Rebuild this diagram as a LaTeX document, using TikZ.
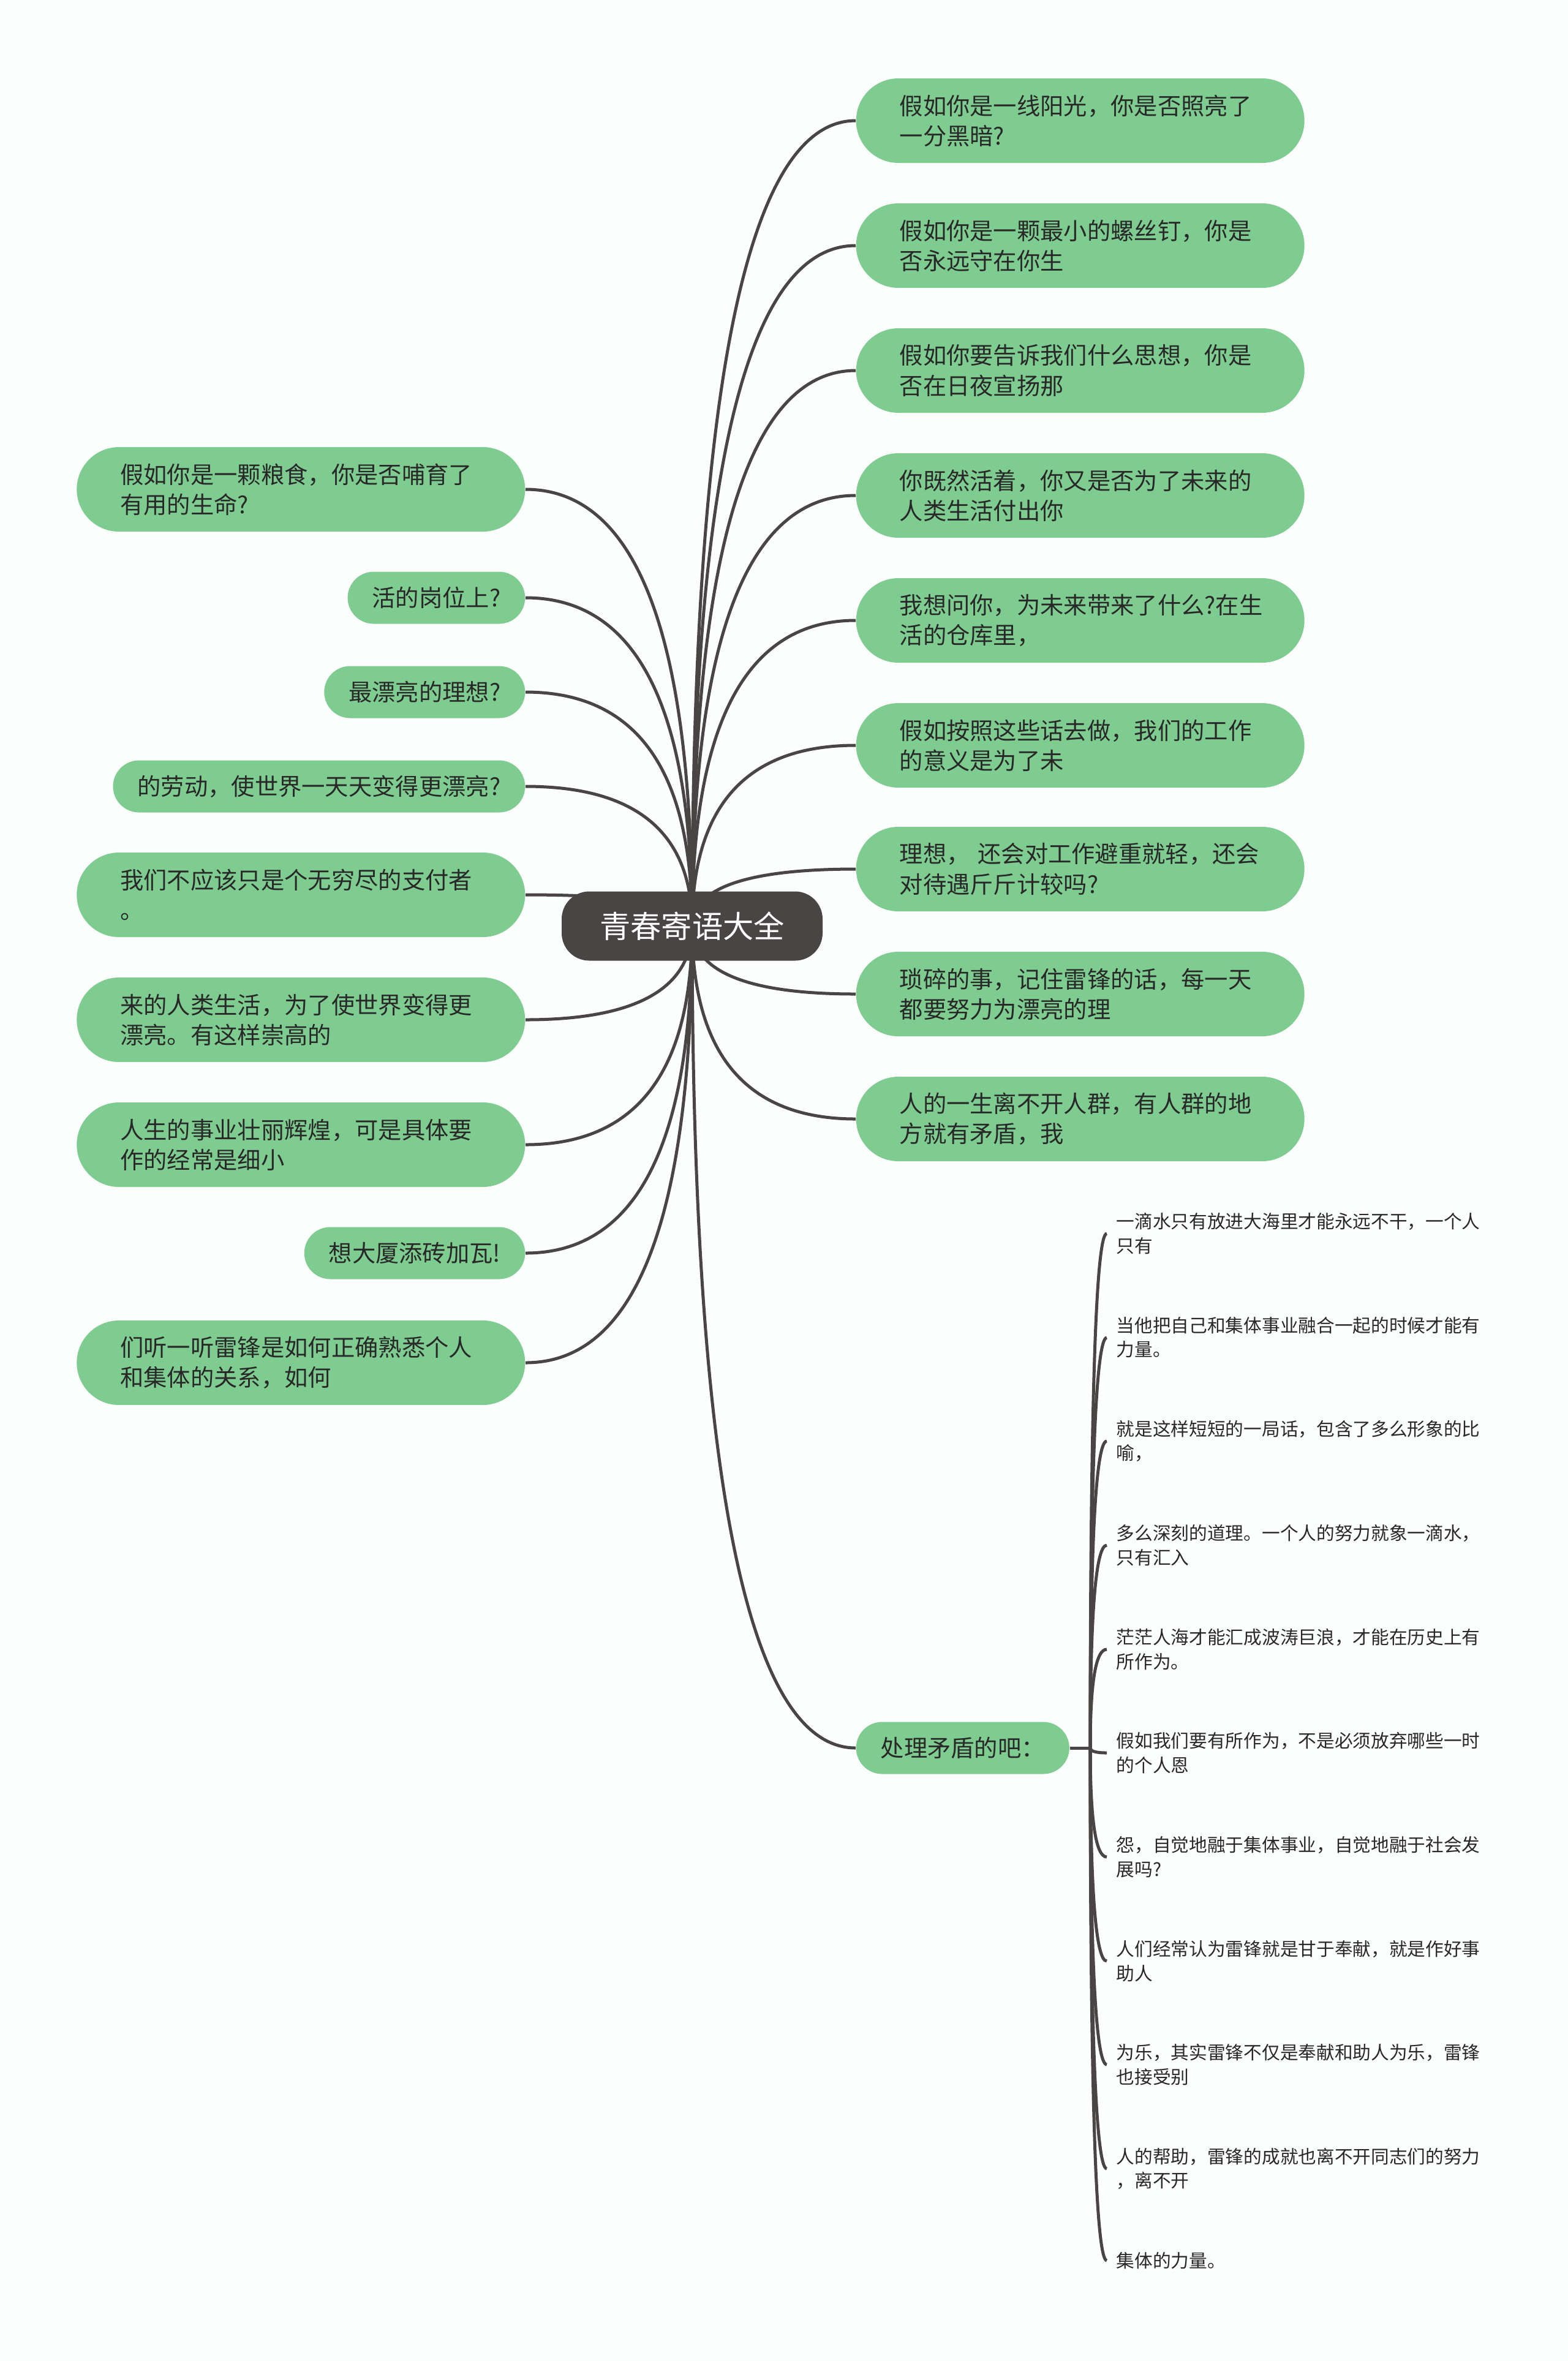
\documentclass[tikz,border=0pt]{standalone}
\usepackage{fontspec}
\setmainfont{Noto Sans CJK SC}
\usetikzlibrary{calc, backgrounds}
\definecolor{vert}{RGB}{127,204,145}
\definecolor{gris}{RGB}{74,69,69}
\definecolor{encre}{RGB}{40,40,40}
\definecolor{fond}{RGB}{251,254,253}

\begin{document}
\begin{tikzpicture}[x=1cm, y=1cm,
    lien/.style={draw=gris, line width=0.05cm},
    racine/.style={fill=gris, text=white, rounded corners=0.45cm, minimum width=4.26cm, minimum height=1.13cm, font=\fontsize{14.3}{17}\selectfont},
    boite/.style={fill=vert, text=encre, rounded corners=0.69cm, text width=5.9cm, align=left, inner xsep=0.71cm, minimum height=1.38cm, font=\fontsize{10.9}{14}\selectfont},
    petite/.style={fill=vert, text=encre, rounded corners=0.425cm, inner xsep=0.4cm, minimum height=0.85cm, font=\fontsize{10.9}{14}\selectfont},
    feuille/.style={text=encre, text width=6.2cm, align=left, inner xsep=0.15cm, inner ysep=0cm, font=\fontsize{8.45}{11.2}\selectfont}]
    \useasboundingbox (0,0) rectangle (25.6,-38.55);

    % Noeud central
    \node[racine] (c) at (11.30,-15.12) {青春寄语大全};

    % Branches a droite
    \node[boite, anchor=west] (r1) at (13.97,-1.97) {假如你是一线阳光，你是否照亮了\\一分黑暗?};
    \node[boite, anchor=west] (r2) at (13.97,-4.01) {假如你是一颗最小的螺丝钉，你是\\否永远守在你生};
    \node[boite, anchor=west] (r3) at (13.97,-6.05) {假如你要告诉我们什么思想，你是\\否在日夜宣扬那};
    \node[boite, anchor=west] (r4) at (13.97,-8.09) {你既然活着，你又是否为了未来的\\人类生活付出你};
    \node[boite, anchor=west] (r5) at (13.97,-10.13) {我想问你，为未来带来了什么?在生\\活的仓库里，};
    \node[boite, anchor=west] (r6) at (13.97,-12.17) {假如按照这些话去做，我们的工作\\的意义是为了未};
    \node[boite, anchor=west] (r7) at (13.97,-14.19) {理想， 还会对工作避重就轻，还会\\对待遇斤斤计较吗?};
    \node[boite, anchor=west] (r8) at (13.97,-16.23) {琐碎的事，记住雷锋的话，每一天\\都要努力为漂亮的理};
    \node[boite, anchor=west] (r9) at (13.97,-18.27) {人的一生离不开人群，有人群的地\\方就有矛盾，我};
    \node[petite, anchor=west] (fix) at (13.97,-28.54) {处理矛盾的吧：};

    % Branches a gauche
    \node[boite, anchor=east] (l1) at (8.58,-7.99) {假如你是一颗粮食，你是否哺育了\\有用的生命?};
    \node[petite, anchor=east] (l2) at (8.58,-9.76) {活的岗位上?};
    \node[petite, anchor=east] (l3) at (8.58,-11.30) {最漂亮的理想?};
    \node[petite, anchor=east] (l4) at (8.58,-12.84) {的劳动，使世界一天天变得更漂亮?};
    \node[boite, anchor=east] (l5) at (8.58,-14.61) {我们不应该只是个无穷尽的支付者\\。};
    \node[boite, anchor=east] (l6) at (8.58,-16.65) {来的人类生活，为了使世界变得更\\漂亮。有这样崇高的};
    \node[boite, anchor=east] (l7) at (8.58,-18.69) {人生的事业壮丽辉煌，可是具体要\\作的经常是细小};
    \node[petite, anchor=east] (l8) at (8.58,-20.46) {想大厦添砖加瓦!};
    \node[boite, anchor=east] (l9) at (8.58,-22.25) {们听一听雷锋是如何正确熟悉个人\\和集体的关系，如何};

    % Feuilles de la derniere branche
    \coordinate (hub) at (17.80,-28.54);
    \node[feuille, anchor=west] (s1) at (18.07,-20.14) {一滴水只有放进大海里才能永远不干，一个人\\只有};
    \node[feuille, anchor=west] (s2) at (18.07,-21.84) {当他把自己和集体事业融合一起的时候才能有\\力量。};
    \node[feuille, anchor=west] (s3) at (18.07,-23.53) {就是这样短短的一局话，包含了多么形象的比\\喻，};
    \node[feuille, anchor=west] (s4) at (18.07,-25.23) {多么深刻的道理。一个人的努力就象一滴水，\\只有汇入};
    \node[feuille, anchor=west] (s5) at (18.07,-26.93) {茫茫人海才能汇成波涛巨浪，才能在历史上有\\所作为。};
    \node[feuille, anchor=west] (s6) at (18.07,-28.62) {假如我们要有所作为，不是必须放弃哪些一时\\的个人恩};
    \node[feuille, anchor=west] (s7) at (18.07,-30.32) {怨，自觉地融于集体事业，自觉地融于社会发\\展吗?};
    \node[feuille, anchor=west] (s8) at (18.07,-32.02) {人们经常认为雷锋就是甘于奉献，就是作好事\\助人};
    \node[feuille, anchor=west] (s9) at (18.07,-33.71) {为乐，其实雷锋不仅是奉献和助人为乐，雷锋\\也接受别};
    \node[feuille, anchor=west] (s10) at (18.07,-35.41) {人的帮助，雷锋的成就也离不开同志们的努力\\，离不开};
    \node[feuille, anchor=west] (s11) at (18.07,-36.91) {集体的力量。};

    % Liens (sous les noeuds)
    \begin{scope}[on background layer]
        \fill[fond] (0,0) rectangle (25.6,-38.55);
        \foreach \i in {1,...,9} {
            \draw[lien] (c.center) .. controls ($(c.center)!2/3!(c.center |- r\i.west)$) and ($(r\i.west)!2/3!(c.center |- r\i.west)$) .. (r\i.west);
            \draw[lien] (c.center) .. controls ($(c.center)!2/3!(c.center |- l\i.east)$) and ($(l\i.east)!2/3!(c.center |- l\i.east)$) .. (l\i.east);
        }
        \draw[lien] (c.center) .. controls ($(c.center)!2/3!(c.center |- fix.west)$) and ($(fix.west)!2/3!(c.center |- fix.west)$) .. (fix.west);
        \draw[lien] (fix.east) -- (hub);
        \foreach \i in {1,...,11} {
            \draw[lien] (hub) .. controls ($(hub)!2/3!(hub |- s\i.west)$) and ($(s\i.west)!2/3!(hub |- s\i.west)$) .. (s\i.west);
        }
    \end{scope}
\end{tikzpicture}
\end{document}
